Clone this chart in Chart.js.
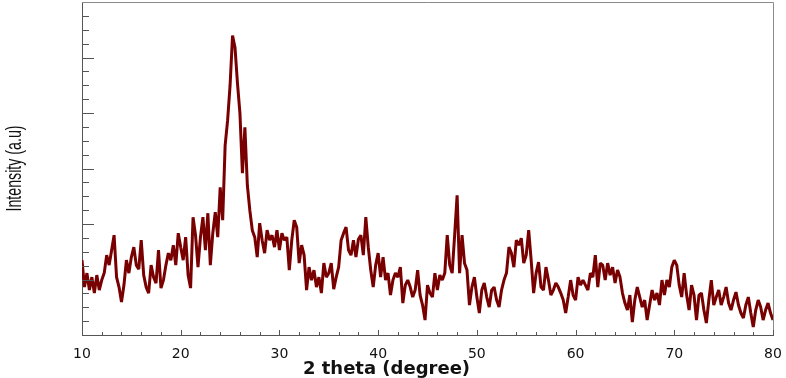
<!DOCTYPE html>
<html>
<head>
<meta charset="utf-8">
<script src="https://cdn.jsdelivr.net/npm/chart.js@4.4.1/dist/chart.umd.min.js"></script>
<style>
  html, body { margin: 0; padding: 0; background: #fff; }
  #wrap { width: 786px; height: 378px; position: relative; }
</style>
</head>
<body>
<div id="wrap"><canvas id="xrd" width="786" height="378"></canvas></div>
<script>
// XRD pattern, sampled every 0.25 degree from 10 to 80 (2 theta)
const startAngle = 10
const angleStep = 0.25
const intensity = [
  75, 48, 62, 45, 58, 42, 60, 45, 55, 62, 80, 70, 85, 100, 58, 48, 33, 50, 75, 62,
  78, 88, 70, 66, 95, 60, 48, 42, 70, 58, 52, 85, 47, 55, 70, 82, 75, 90, 70, 102,
  88, 75, 98, 60, 47, 118, 100, 68, 98, 118,
  // 22.5 - 31.0
  85, 122, 70, 102, 123, 98, 148, 115, 190, 215, 250, 300, 288, 252, 222, 162, 208, 150, 125, 105,
  98, 78, 112, 95, 82, 105, 95, 100, 88, 105, 85, 102, 95, 98, 65,
  // 31.25 - 43.0
  95, 115, 108, 72, 90, 80, 45, 68, 55, 65, 48, 58, 42, 72, 58, 62, 72, 46, 58, 68,
  95, 102, 108, 85, 80, 95, 78, 96, 100, 80, 118, 88, 65, 48, 70, 82, 58, 78, 55, 62,
  40, 55, 62, 58, 68, 32, 50, 55,
  // 43.25 - 55.25
  48, 38, 45, 65, 40, 30, 15, 50, 42, 38, 62, 45, 60, 55, 62, 100, 70, 62, 100, 140,
  62, 100, 72, 65, 30, 48, 58, 38, 22, 45, 52, 38, 28, 45, 48, 35, 28, 45, 55, 62,
  88, 82, 68, 95, 90, 97, 72, 80, 105,
  // 55.5 - 67.75
  75, 42, 62, 73, 48, 45, 68, 55, 40, 45, 52, 48, 42, 35, 22, 38, 55, 40, 35, 58,
  50, 55, 50, 45, 62, 58, 80, 48, 72, 70, 55, 72, 60, 68, 52, 65, 58, 42, 32, 25,
  40, 13, 35, 48, 38, 28, 35, 15, 30, 45,
  // 68.0 - 80.0
  35, 42, 30, 55, 40, 55, 48, 68, 75, 70, 50, 38, 62, 40, 25, 50, 40, 15, 40, 42,
  25, 12, 35, 55, 30, 38, 45, 30, 38, 48, 32, 25, 35, 43, 30, 22, 17, 30, 38, 22,
  8, 25, 35, 28, 15, 25, 32, 22, 15
]
const twoTheta = intensity.map((_, i) => startAngle + i * angleStep)

const xTickLabels = [10, 20, 30, 40, 50, 60, 70, 80]
const xTitle = '2 theta (degree)'
const yTitle = 'Intensity (a.u)'

const yMax = 333.6
const yMinorStep = 13.9

// inward ticks, frame and condensed y title
const framePlugin = {
  id: 'frame',
  afterDraw(chart) {
    const { ctx, chartArea: a, scales } = chart
    const xs = scales.x, ys = scales.y
    ctx.save()
    ctx.strokeStyle = '#8a8a8a'
    ctx.lineWidth = 1
    ctx.beginPath()
    ctx.moveTo(a.left, a.top + 0.5)
    ctx.lineTo(a.right + 0.5, a.top + 0.5)
    ctx.lineTo(a.right + 0.5, a.bottom)
    ctx.stroke()

    ctx.strokeStyle = '#555'
    ctx.beginPath()
    for (let v = 10; v <= 80; v += 2) {
      const px = Math.round(xs.getPixelForValue(v)) + 0.5
      const len = v % 10 === 0 ? 5 : 3
      ctx.moveTo(px, a.bottom)
      ctx.lineTo(px, a.bottom - len)
    }
    for (let i = 1; i < 24; i++) {
      const py = Math.round(ys.getPixelForValue(i * yMinorStep)) + 0.5
      const len = i % 4 === 0 ? 12 : 7
      ctx.moveTo(a.left, py)
      ctx.lineTo(a.left + len, py)
    }
    ctx.stroke()

    // y title, narrow font squeezed to the original length
    ctx.font = '22px "Liberation Sans Narrow", "Liberation Sans", sans-serif'
    ctx.fillStyle = '#111'
    ctx.textAlign = 'center'
    ctx.textBaseline = 'middle'
    const w = ctx.measureText(yTitle).width
    ctx.translate(15, (a.top + a.bottom) / 2)
    ctx.rotate(-Math.PI / 2)
    ctx.scale(Math.min(1, 86 / w), 1)
    ctx.fillText(yTitle, 0, 0)
    ctx.restore()
  }
}

new Chart(document.getElementById('xrd'), {
  type: 'line',
  data: {
    labels: twoTheta,
    datasets: [{
      data: twoTheta.map((x, i) => ({ x: x, y: intensity[i] })),
      borderColor: '#780000',
      borderWidth: 3,
      borderJoinStyle: 'bevel',
      pointRadius: 0,
      tension: 0,
      fill: false
    }]
  },
  options: {
    responsive: false,
    animation: false,
    devicePixelRatio: 1,
    layout: { padding: { top: 2, right: 13, bottom: 0, left: 0 } },
    plugins: {
      legend: { display: false },
      tooltip: { enabled: false },
      title: {
        display: true,
        position: 'bottom',
        text: xTitle,
        color: '#111',
        font: { family: '"DejaVu Sans", sans-serif', size: 18, weight: 'bold', lineHeight: 1.0 },
        padding: { top: 0, bottom: 0 }
      }
    },
    scales: {
      x: {
        type: 'linear',
        min: 10,
        max: 80,
        grid: { display: false, drawTicks: false },
        border: { display: true, color: '#555', width: 1 },
        afterBuildTicks(scale) {
          scale.ticks = xTickLabels.map(v => ({ value: v }))
        },
        afterFit(scale) {
          scale.height = 25
          scale.paddingLeft = 0
          scale.paddingRight = 0
        },
        ticks: {
          color: '#111',
          padding: 11,
          maxRotation: 0,
          font: { family: '"DejaVu Sans", sans-serif', size: 14 }
        }
      },
      y: {
        min: 0,
        max: yMax,
        grid: { display: false, drawTicks: false },
        border: { display: true, color: '#555', width: 1 },
        ticks: { display: false },
        afterFit(scale) { scale.width = 82 }
      }
    }
  },
  plugins: [framePlugin]
})
</script>
</body>
</html>
